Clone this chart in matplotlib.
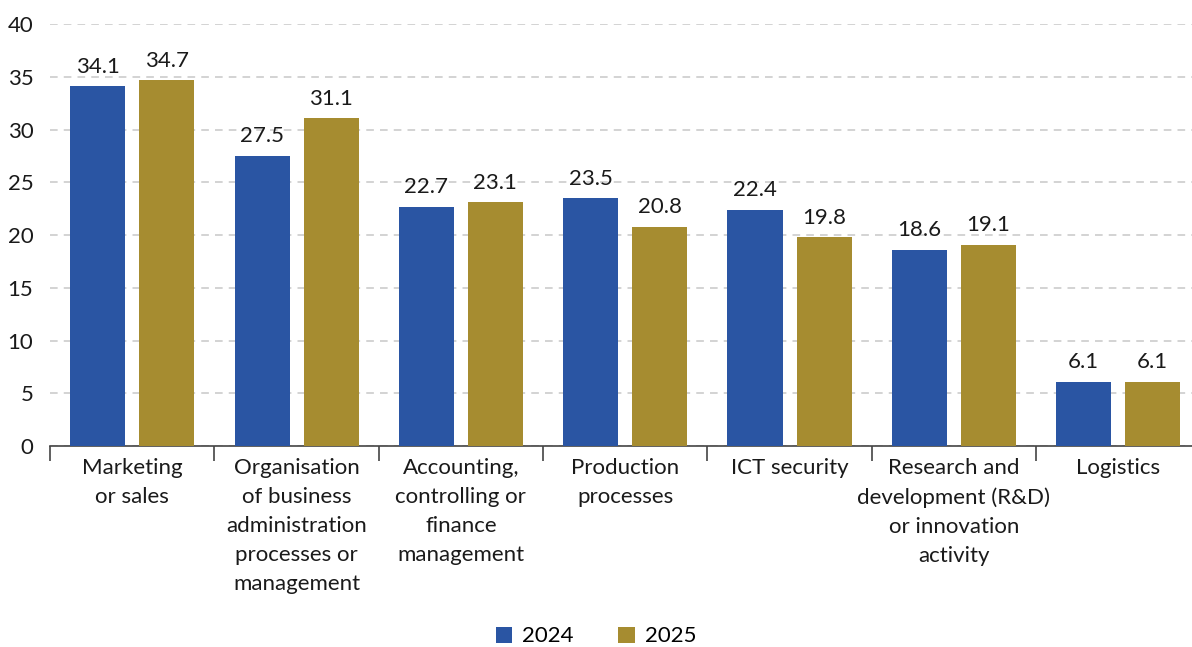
import numpy as np
import matplotlib.pyplot as plt

plt.rcParams['font.family'] = ['Lato', 'DejaVu Sans']

categories = ['Marketing\nor sales',
              'Organisation\nof business\nadministration\nprocesses or\nmanagement',
              'Accounting,\ncontrolling or\nfinance\nmanagement',
              'Production\nprocesses',
              'ICT security',
              'Research and\ndevelopment (R&D)\nor innovation\nactivity',
              'Logistics']
vals_2024 = [34.1, 27.5, 22.7, 23.5, 22.4, 18.6, 6.1]
vals_2025 = [34.7, 31.1, 23.1, 20.8, 19.8, 19.1, 6.1]
years = ['2024', '2025']

blue = '#2A55A3'
gold = '#A68C30'
fs = 16

fig = plt.figure(figsize=(11.92, 6.47), dpi=100)
ax = fig.add_axes([0.042, 0.3107, 0.965, 0.652])

x = np.arange(len(categories))
off = 0.21
w = 0.335
b1 = ax.bar(x - off, vals_2024, w, color=blue, label=years[0], zorder=3)
b2 = ax.bar(x + off, vals_2025, w, color=gold, label=years[1], zorder=3)

for bars, vals in ((b1, vals_2024), (b2, vals_2025)):
    for rect, v in zip(bars, vals):
        ax.text(rect.get_x() + rect.get_width() / 2, v + 0.9, f'{v:.1f}',
                ha='center', va='bottom', fontsize=fs, color='#1a1a1a')

ax.set_xlim(-0.5, 6.5)
ax.set_ylim(0, 40)
ax.set_yticks(range(0, 41, 5))
ax.tick_params(axis='y', length=0, labelsize=fs, pad=12, labelcolor='#1a1a1a')
ax.yaxis.grid(True, color='#c8c8c8', linestyle=(0, (5, 4)), linewidth=1.1, zorder=0)

for s in ['top', 'right', 'left']:
    ax.spines[s].set_visible(False)
ax.spines['bottom'].set_color('#444444')
ax.spines['bottom'].set_linewidth(1.2)

ax.set_xticks(x)
ax.set_xticklabels(categories, fontsize=fs, color='#1a1a1a', linespacing=1.55)
ax.tick_params(axis='x', which='major', length=0, pad=9)
ax.set_xticks(np.arange(-0.5, 7, 1.0), minor=True)
ax.tick_params(axis='x', which='minor', length=11, width=1.2, color='#444444')

fig.legend(handles=[b1, b2], loc='lower center', bbox_to_anchor=(0.5, -0.03),
           ncol=2, frameon=False, fontsize=fs, handlelength=0.75, handleheight=0.75,
           handletextpad=0.45, columnspacing=2.0)

fig.savefig('out.png', dpi=100)
